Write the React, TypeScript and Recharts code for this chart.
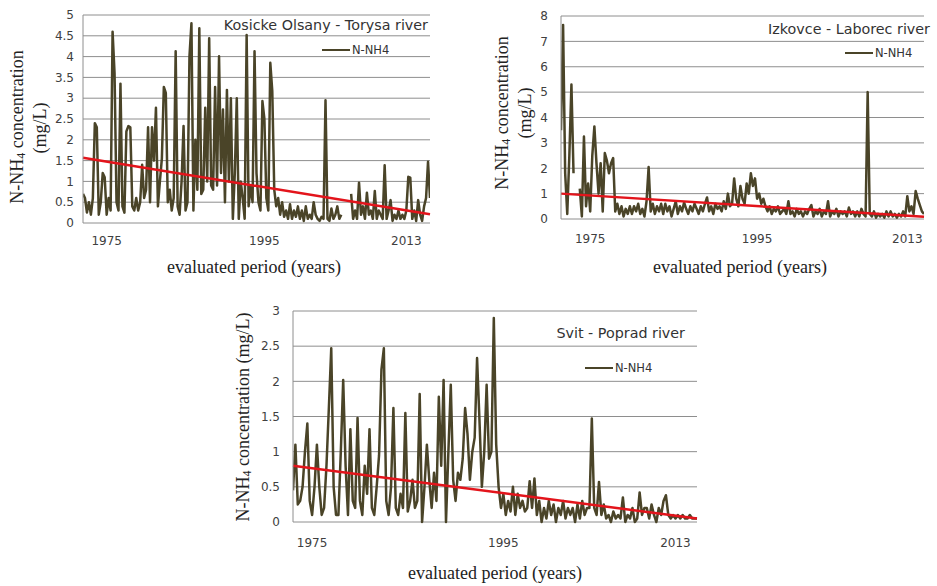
import React from 'react';
import { LineChart, Line, XAxis, YAxis, CartesianGrid, ReferenceLine, Legend } from 'recharts';

// ---------- data (quarterly readings) ----------
const seriesName = 'N-NH4';
const yearTicks = [1975, 1995, 2013];
const step = 0.25;

// Kosicke Olsany - Torysa river (from 1972.0)
const p1Start = 1972;
const p1End = 2016;
const p1Values: (number | null)[] = [
  0.7, 0.6, 0.25, 0.5,
  0.2, 0.6, 2.4, 2.3,
  0.2, 0.5, 1.2, 1.1,
  0.2, 0.6, 0.3, 4.6,
  3.6, 0.5, 0.3, 3.35,
  0.4, 0.25, 2.2, 2.33,
  2.3, 0.4, 0.3, 0.6,
  0.3, 0.5, 1.4, 0.6,
  0.8, 2.3, 0.5, 2.3,
  1.5, 2.77, 0.4, 1.0,
  1.55, 3.27, 3.13, 0.5,
  0.8, 0.3, 0.6, 4.13,
  0.4, 0.2, 1.0, 2.33,
  0.3, 0.5, 4.0, 4.8,
  0.3, 2.0, 0.8, 4.68,
  0.7, 0.8, 2.77, 1.0,
  4.44, 0.9, 0.8, 3.27,
  0.9, 4.01, 1.2, 2.73,
  0.5, 3.2, 1.0, 3.0,
  0.1, 1.2, 3.0, 0.1,
  1.0, 0.6, 0.1, 4.52,
  0.4, 0.9, 0.5, 4.13,
  1.2, 0.5, 0.3, 2.93,
  2.5, 0.6, 0.3, 3.85,
  3.17, 0.8, 0.4, 0.6,
  0.2, 0.5, 0.15, 0.3,
  0.1, 0.45, 0.1, 0.3,
  0.15, 0.4, 0.1, 0.3,
  0.05, 0.4, 0.1, 0.2,
  0.1, 0.5, 0.2, 0.1,
  0.05, 0.15, 0.1, 2.95,
  0.1, 0.05, 0.35, 0.1,
  0.2, 0.4, 0.1, 0.2,
  null, null, null, null,
  0.7, 0.1, 0.3, 0.1,
  0.97, 0.2, 0.4, 0.1,
  0.73, 0.2, 0.3, 0.1,
  0.77, 0.1, 0.3, 0.2,
  0.1, 1.39, 0.1, 0.3,
  0.55, 0.05, 0.2, 0.1,
  0.3, 0.1, 0.2, 0.1,
  0.3, 1.11, 1.09, 0.1,
  0.3, 0.05, 0.55, 0.2,
  0.05, 0.4, 0.6, 1.47,
  0.6,
];
const p1Trend = [1.57, 0.21];
const p1YTicks = [0, 0.5, 1, 1.5, 2, 2.5, 3, 3.5, 4, 4.5, 5];

// Izkovce - Laborec river (from 1971.5)
const p2Start = 1971.5;
const p2End = 2015;
const p2Values: (number | null)[] = [
  3.5, 7.65,
  1.8, 0.2, 2.5, 5.3,
  1.8, null, null, 1.2,
  0.1, 3.25, 0.5, 1.4,
  0.3, 2.5, 3.65, 2.2,
  1.0, 2.2, 0.3, 2.6,
  2.3, 1.8, 2.2, 2.4,
  0.3, 0.6, 0.2, 0.5,
  0.1, 0.4, 0.2, 0.5,
  0.2, 0.5, 0.3, 0.6,
  0.2, 0.4, 0.1, 0.7,
  2.05, 0.3, 0.6, 0.2,
  0.5, 0.3, 0.6, 0.2,
  0.6, 0.3, 0.5, 0.1,
  0.4, 0.7, 0.2, 0.5,
  0.3, 0.65, 0.4, 0.2,
  0.5, 0.3, 0.6, 0.4,
  0.2, 0.5, 0.3, 0.6,
  0.85, 0.3, 0.5, 0.2,
  0.6, 0.4, 0.5, 0.3,
  0.7, 0.4, 1.0, 0.5,
  0.6, 1.6, 0.8, 0.5,
  1.3, 0.8, 0.6, 1.4,
  1.0, 1.8, 1.3, 1.6,
  0.8, 1.0, 0.6, 0.8,
  0.5, 0.3, 0.5, 0.2,
  0.4, 0.3, 0.5, 0.2,
  0.3, 0.4, 0.2, 0.7,
  0.2, 0.3, 0.1, 0.4,
  0.2, 0.3, 0.1, 0.3,
  0.2, 0.4, 0.55, 0.1,
  0.3, 0.2, 0.4, 0.1,
  0.3, 0.2, 0.7, 0.1,
  0.3, 0.2, 0.4, 0.1,
  0.3, 0.2, 0.3, 0.1,
  0.45, 0.2, 0.3, 0.1,
  0.3, 0.1, 0.4, 0.2,
  0.1, 5.0, 0.2, 0.1,
  0.3, 0.05, 0.2, 0.1,
  0.2, 0.05, 0.3, 0.1,
  0.3, 0.1, 0.2, 0.05,
  0.2, 0.1, 0.3, 0.1,
  0.9, 0.3, 0.5, 0.2,
  1.1, 0.8, 0.55, 0.3,
  0.2,
];
const p2Trend = [1.0, 0.09];
const p2YTicks = [0, 1, 2, 3, 4, 5, 6, 7, 8];

// Svit - Poprad river (from 1973.0)
const p3Start = 1973;
const p3End = 2015.25;
const p3Values: (number | null)[] = [
  0.45, 1.1, 0.25, 0.3,
  0.5, 1.0, 1.4, 0.3,
  0.1, 0.5, 1.1, 0.5,
  0.1, 0.2, 0.8, 1.62,
  2.47, 0.5, 0.1, 0.1,
  1.0, 2.02, 0.8, 0.1,
  1.32, 0.3, 0.2, 1.48,
  0.3, 0.1, 0.8, 0.4,
  1.32, 0.2, 0.1, 0.5,
  0.95, 2.17, 2.47, 0.3,
  0.1, 0.5, 1.62, 0.2,
  0.1, 0.4, 0.2, 1.55,
  0.15, 0.3, 0.6, 0.2,
  0.3, 1.82, 0.0, 0.5,
  1.1, 0.6, 0.2, 0.7,
  0.3, 1.78, 0.8, 2.02,
  0.0, 1.0, 1.95, 0.6,
  0.3, 0.7, 0.6, 0.9,
  1.62, 1.25, 0.6, 1.0,
  1.2, 2.33, 1.45, 0.5,
  1.0, 1.95, 0.9, 1.0,
  2.9, 1.1, 0.5, 0.2,
  0.4, 0.1, 0.3, 0.15,
  0.5, 0.1, 0.4, 0.2,
  0.3, 0.15, 0.2, 0.58,
  0.2, 0.62, 0.1, 0.3,
  0.0, 0.2, 0.05, 0.3,
  0.1, 0.25, 0.0, 0.2,
  0.1, 0.3, 0.05, 0.2,
  0.1, 0.2, 0.0, 0.25,
  0.05, 0.3, 0.1, 0.2,
  0.2, 1.47, 0.2, 0.1,
  0.57, 0.1, 0.25, 0.05,
  0.1, 0.0, 0.15, 0.05,
  0.1, 0.05, 0.35, 0.0,
  0.1, 0.05, 0.2, 0.0,
  0.05, 0.42, 0.1, 0.2,
  0.2, 0.05, 0.25, 0.1,
  0.0, 0.2, 0.1, 0.3,
  0.38, 0.1, 0.05, 0.1,
  0.05, 0.1, 0.05, 0.1,
  0.05, 0.05, 0.1, 0.05,
  0.05, 0.05,
];
const p3Trend = [0.8, 0.05];
const p3YTicks = [0, 0.5, 1, 1.5, 2, 2.5, 3];

// ---------- styles ----------
const SERIES = '#4a4428';
const TREND = '#e3141b';
const GRID = '#8e8e8e';
const TICK = { fontSize: 12, fontFamily: 'DejaVu Sans', fill: '#404040' };
const SERIF = 'Liberation Serif, Times New Roman, serif';
const SANS = 'DejaVu Sans';

const toRows = (start: number, values: (number | null)[]) =>
  values.map((v, i) => ({ t: start + i * step, v }));

const LegendBox = (props: any) => {
  const items = (props.payload || []).filter((p: any) => p.dataKey === 'v');
  return (
    <div style={{ display: 'flex', alignItems: 'center', height: 14 }}>
      {items.map((p: any) => (
        <React.Fragment key={p.value}>
          <div style={{ width: 28, height: 2, background: SERIES }} />
          <span style={{ marginLeft: 2, fontFamily: SANS, fontSize: 11.5, color: '#333', lineHeight: '14px' }}>{p.value}</span>
        </React.Fragment>
      ))}
    </div>
  );
};

type PanelProps = {
  left: number; top: number; width: number; height: number;
  margin: { top: number; right: number; bottom: number; left: number };
  yWidth: number; xTickMargin: number; yTickMargin: number;
  start: number; end: number; values: (number | null)[];
  yTicks: number[]; trend: number[];
  legendLeft: number; legendTop: number;
};

const Panel = (p: PanelProps) => {
  const rows = toRows(p.start, p.values);
  const yMax = p.yTicks[p.yTicks.length - 1];
  return (
    <div style={{ position: 'absolute', left: p.left, top: p.top }}>
      <LineChart width={p.width} height={p.height} data={rows} margin={p.margin}>
        <CartesianGrid vertical={false} stroke={GRID} strokeWidth={1} />
        <XAxis
          type="number"
          dataKey="t"
          domain={[p.start, p.end]}
          ticks={yearTicks}
          allowDataOverflow
          axisLine={false}
          tickLine={false}
          tickSize={0}
          tickMargin={p.xTickMargin}
          tick={TICK}
          height={30}
        />
        <YAxis
          type="number"
          domain={[0, yMax]}
          ticks={p.yTicks}
          width={p.yWidth}
          axisLine={{ stroke: GRID }}
          tickLine={false}
          tickSize={0}
          tickMargin={p.yTickMargin}
          tick={TICK}
          interval={0}
        />
        <Line
          type="linear"
          dataKey="v"
          name={seriesName}
          stroke={SERIES}
          strokeWidth={2.5}
          strokeLinejoin="round"
          dot={false}
          activeDot={false}
          connectNulls={false}
          isAnimationActive={false}
        />
        <ReferenceLine
          segment={[{ x: p.start, y: p.trend[0] }, { x: p.end, y: p.trend[1] }]}
          stroke={TREND}
          strokeWidth={2.5}
          ifOverflow="visible"
        />
        <Legend
          layout="horizontal"
          verticalAlign="middle"
          align="center"
          content={LegendBox}
          wrapperStyle={{ left: p.legendLeft, top: p.legendTop, width: 'auto', height: 'auto', margin: 0 }}
        />
      </LineChart>
    </div>
  );
};

const YTitle = () => (
  <>
    <tspan>N-NH</tspan>
    <tspan dy={4} fontSize={12}>4</tspan>
    <tspan dy={-4}> concentration</tspan>
  </>
);

export default function App() {
  return (
    <div style={{ position: 'absolute', left: 0, top: 0, width: 937, height: 586, background: '#fff', overflow: 'hidden' }}>
      <Panel
        left={0} top={0} width={470} height={260}
        margin={{ top: 15, right: 40, bottom: 7, left: 0 }}
        yWidth={83} xTickMargin={13} yTickMargin={9}
        start={p1Start} end={p1End} values={p1Values}
        yTicks={p1YTicks} trend={p1Trend}
        legendLeft={322} legendTop={43}
      />
      <Panel
        left={480} top={0} width={457} height={260}
        margin={{ top: 16, right: 13, bottom: 11, left: 0 }}
        yWidth={81} xTickMargin={15} yTickMargin={13}
        start={p2Start} end={p2End} values={p2Values}
        yTicks={p2YTicks} trend={p2Trend}
        legendLeft={365} legendTop={46}
      />
      <Panel
        left={200} top={290} width={520} height={270}
        margin={{ top: 21, right: 23, bottom: 8, left: 0 }}
        yWidth={93} xTickMargin={16} yTickMargin={13}
        start={p3Start} end={p3End} values={p3Values}
        yTicks={p3YTicks} trend={p3Trend}
        legendLeft={385} legendTop={71}
      />
      <svg width={937} height={586} style={{ position: 'absolute', left: 0, top: 0, pointerEvents: 'none' }}>
        <g fontFamily={SANS} fontSize={14.3} fill="#333" textAnchor="end" dominantBaseline="central">
          <text x={428} y={25}>Kosicke Olsany - Torysa river</text>
          <text x={930} y={29}>Izkovce - Laborec river</text>
          <text x={685} y={333}>Svit - Poprad river</text>
        </g>
        <g fontFamily={SERIF} fontSize={18} fill="#222" textAnchor="middle" dominantBaseline="central">
          <text x={254} y={267}>evaluated period (years)</text>
          <text x={740} y={267}>evaluated period (years)</text>
          <text x={495} y={573}>evaluated period (years)</text>
        </g>
        <g fontFamily={SERIF} fontSize={18} fill="#222" textAnchor="middle" dominantBaseline="central">
          <text x={17} y={127} transform="rotate(-90 17 127)"><YTitle /></text>
          <text x={40} y={128} transform="rotate(-90 40 128)">(mg/L)</text>
          <text x={502} y={113} transform="rotate(-90 502 113)"><YTitle /></text>
          <text x={525} y={113} transform="rotate(-90 525 113)">(mg/L)</text>
          <text x={243} y={417} transform="rotate(-90 243 417)">
            <YTitle />
            <tspan> (mg/L)</tspan>
          </text>
        </g>
      </svg>
    </div>
  );
}
